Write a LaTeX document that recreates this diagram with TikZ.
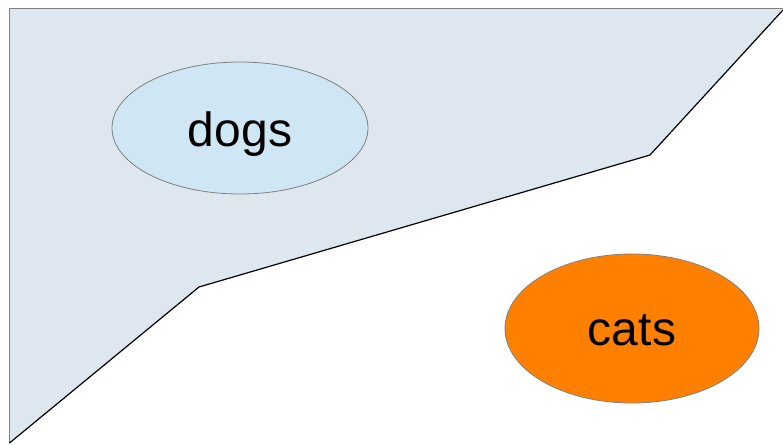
\documentclass[tikz,border=0pt]{standalone}
\usepackage{fontspec}
\setmainfont{Liberation Sans}
\usetikzlibrary{shapes.geometric}
\definecolor{regionfill}{HTML}{DEE6EF}
\definecolor{dogfill}{HTML}{CFE7F5}
\definecolor{catfill}{HTML}{FF8000}
\definecolor{edgegray}{HTML}{808080}
\begin{document}
\begin{tikzpicture}[x=1pt,y=-1pt,
  blob/.style={ellipse, draw=edgegray, line width=0.8pt, inner sep=0pt, text depth=0pt, font=\fontsize{48}{52}\selectfont},
  cut/.style={black, line width=1.2pt}]
\useasboundingbox (0,0) rectangle (783,444);
\coordinate (tl) at (9.5,8.5);
\coordinate (tr) at (783,8.5);
\coordinate (r1) at (783,10);
\coordinate (r2) at (650,155);
\coordinate (r3) at (199,287);
\coordinate (bl) at (9.5,443);
\fill[regionfill] (tl) -- (tr) -- (r1) -- (r2) -- (r3) -- (bl) -- cycle;
\draw[edgegray, line width=1.2pt] (bl) -- (tl) -- (tr);
\draw[cut] (r1) -- (r2) -- (r3) -- (bl);
\node[blob, fill=dogfill, minimum width=256, minimum height=132, text height=36pt] (dogs) at (240,128) {dogs};
\node[blob, fill=catfill, minimum width=254, minimum height=149, text height=33pt] (cats) at (632,328.5) {cats};
\end{tikzpicture}
\end{document}
